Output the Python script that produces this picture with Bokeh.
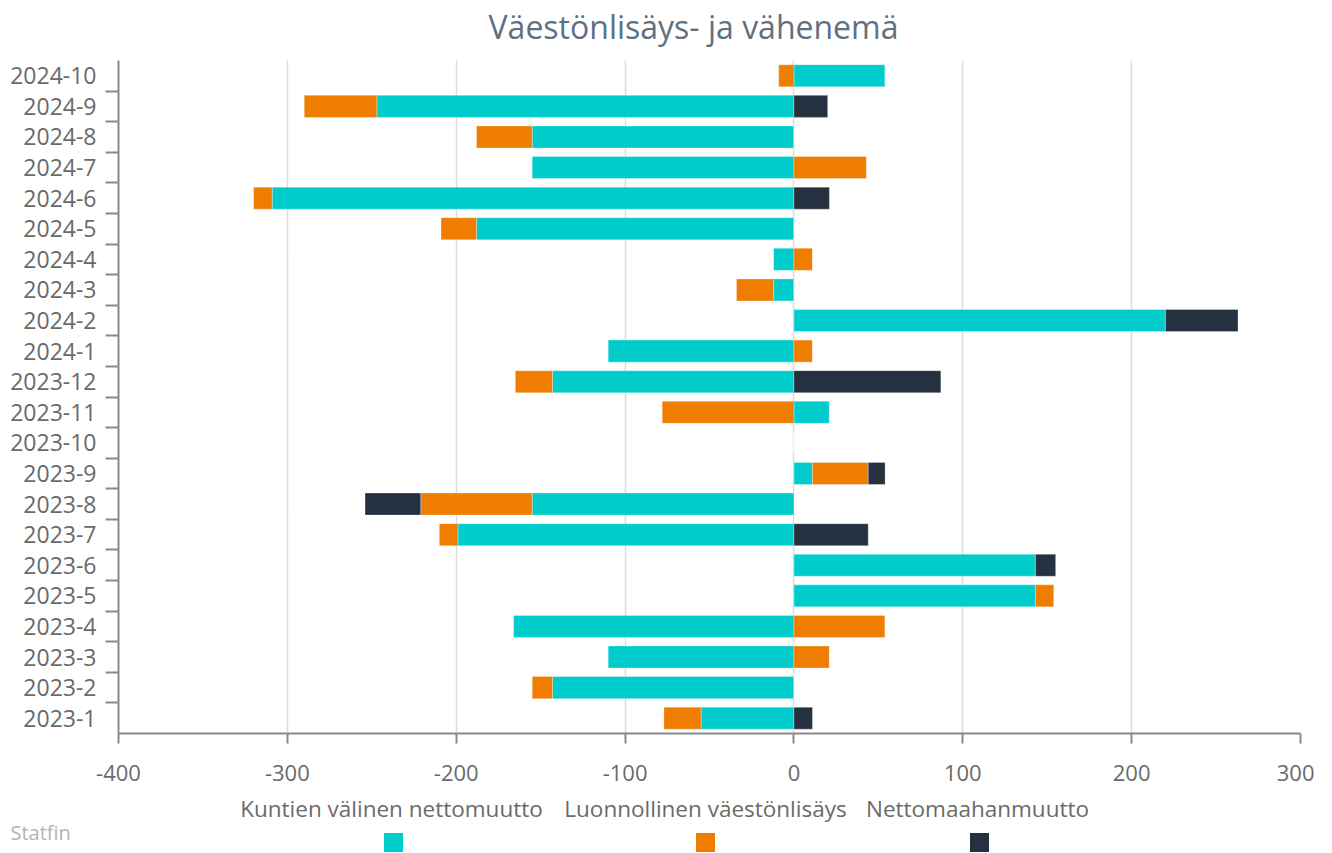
from bokeh.plotting import figure
from bokeh.models import Range1d, FixedTicker, ColumnDataSource
from bokeh.layouts import column
from bokeh.embed import file_html
from bokeh.resources import INLINE
from bokeh.core.properties import value

# ---------------- data (bottom to top) ----------------
categories = ["2023-1", "2023-2", "2023-3", "2023-4", "2023-5", "2023-6",
              "2023-7", "2023-8", "2023-9", "2023-10", "2023-11", "2023-12",
              "2024-1", "2024-2", "2024-3", "2024-4", "2024-5", "2024-6",
              "2024-7", "2024-8", "2024-9", "2024-10"]
kuntien = [-55, -143, -110, -166, 143, 143, -199, -155, 11, 0, 21, -143,
           -110, 220, -12, -12, -188, -309, -155, -155, -247, 54]
luonnollinen = [-22, -12, 21, 54, 11, 0, -11, -66, 33, 0, -78, -22,
                11, 0, -22, 11, -21, -11, 43, -33, -43, -9]
nettomaahan = [11, 0, 0, 0, 0, 12, 44, -33, 10, 0, 0, 87,
               0, 43, 0, 0, 0, 21, 0, 0, 20, 0]
series_names = ["Kuntien välinen nettomuutto", "Luonnollinen väestönlisäys", "Nettomaahanmuutto"]
series_values = [kuntien, luonnollinen, nettomaahan]
colors = ["#00CCCC", "#EF7D00", "#253041"]
x_ticks = [-400, -300, -200, -100, 0, 100, 200, 300]
x_tick_labels = ["-400", "-300", "-200", "-100", "0", "100", "200", "300"]
title_text = "Väestönlisäys- ja vähenemä"
source_text = "Statfin"

FONT = value("Open Sans")
W = 1314

# ---------------- header ----------------
hdr_h = 60
header = figure(width=W, height=hdr_h, x_range=Range1d(0, W), y_range=Range1d(hdr_h, 0),
                toolbar_location=None, output_backend="svg", x_axis_type=None, y_axis_type=None,
                min_border=0)
header.frame_align = False
header.outline_line_color = None
header.grid.visible = False
header.text(x=[693], y=[26], text=[title_text], text_align="center", text_baseline="middle",
            text_font=FONT, text_font_size=value("32px"), text_color="#607080")

# ---------------- main ----------------
main_h = 730
p = figure(width=W, height=main_h, x_range=Range1d(-400, 300), y_range=Range1d(-0.5, len(categories) - 0.5),
           toolbar_location=None, output_backend="svg",
           min_border_left=118, min_border_right=14, min_border_top=0, min_border_bottom=57)
p.frame_align = False
p.outline_line_color = None

n = len(categories)
pos = [0.0] * n
neg = [0.0] * n
for vals, col, name in zip(series_values, colors, series_names):
    lefts, rights, ys = [], [], []
    for i, v in enumerate(vals):
        if v >= 0:
            l, r = pos[i], pos[i] + v
            pos[i] = r
        else:
            l, r = neg[i] + v, neg[i]
            neg[i] = l
        lefts.append(l)
        rights.append(r)
        ys.append(i)
    src = ColumnDataSource(dict(y=ys, left=lefts, right=rights))
    p.hbar(y="y", left="left", right="right", height=0.72, source=src,
           fill_color=col, line_color="white", line_alpha=0.3, line_width=1)

# x axis
p.xaxis.ticker = FixedTicker(ticks=x_ticks)
p.xaxis.major_label_overrides = {t: s for t, s in zip(x_ticks, x_tick_labels)}
p.xaxis.axis_line_color = "#8a8a8a"
p.xaxis.axis_line_width = 2
p.xaxis.major_tick_line_color = "#8a8a8a"
p.xaxis.major_tick_line_width = 2
p.xaxis.major_tick_out = 10
p.xaxis.major_tick_in = 0
p.xaxis.minor_tick_line_color = None
p.xaxis.major_label_text_font = "Open Sans"
p.xaxis.major_label_text_font_size = "22px"
p.xaxis.major_label_text_color = "#6a6a6a"
p.xaxis.major_label_standoff = 21

# y axis
p.yaxis.ticker = FixedTicker(ticks=list(range(n)), minor_ticks=[i + 0.5 for i in range(n - 1)])
p.yaxis.major_label_overrides = {i: c for i, c in enumerate(categories)}
p.yaxis.axis_line_color = "#8a8a8a"
p.yaxis.axis_line_width = 2
p.yaxis.major_tick_line_color = None
p.yaxis.major_tick_out = 0
p.yaxis.major_tick_in = 0
p.yaxis.minor_tick_line_color = "#8a8a8a"
p.yaxis.minor_tick_line_width = 2
p.yaxis.minor_tick_out = 13
p.yaxis.minor_tick_in = 0
p.yaxis.major_label_text_font = "Open Sans"
p.yaxis.major_label_text_font_size = "23px"
p.yaxis.major_label_text_color = "#6a6a6a"
p.yaxis.major_label_standoff = 9

p.xgrid.grid_line_color = "#dcdcdc"
p.xgrid.grid_line_width = 1.5
p.ygrid.grid_line_color = None

# ---------------- legend ----------------
leg_h = 62
leg = figure(width=W, height=leg_h, x_range=Range1d(0, W), y_range=Range1d(leg_h, 0),
             toolbar_location=None, output_backend="svg", x_axis_type=None, y_axis_type=None,
             min_border=0)
leg.frame_align = False
leg.outline_line_color = None
leg.grid.visible = False
label_x = [391, 705, 977]
leg.text(x=label_x, y=[18] * 3, text=series_names, text_align="center", text_baseline="middle",
         text_font=FONT, text_font_size=value("22.5px"), text_color="#6a6a6a")
leg.rect(x=[393, 705, 979], y=[52] * 3, width=19, height=19, fill_color=colors, line_color=None)
leg.text(x=[10], y=[42], text=[source_text], text_align="left", text_baseline="middle",
         text_font=FONT, text_font_size=value("20px"), text_color="#b4b4b4")

layout = column(header, p, leg, spacing=0)
open("out.html", "w").write(file_html(layout, INLINE))
